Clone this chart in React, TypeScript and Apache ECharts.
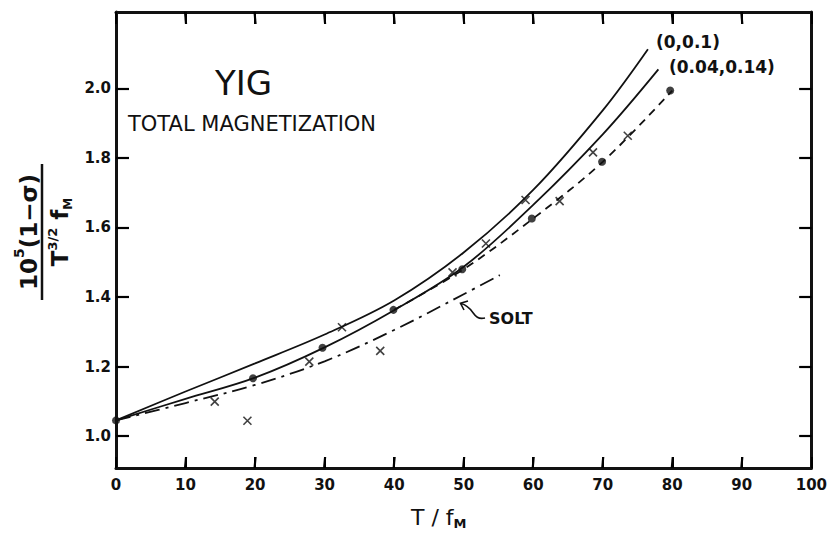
import React, { useEffect, useRef } from "react";
import * as echarts from "echarts";

// ---- data ----
const xTicks = [0, 10, 20, 30, 40, 50, 60, 70, 80, 90, 100];
const yTicks = [1.0, 1.2, 1.4, 1.6, 1.8, 2.0];

// theory curve (0,0.1)
const curveA: [number, number][] = [
  [0, 1.045], [10, 1.128], [20, 1.209], [30, 1.292], [40, 1.39],
  [50, 1.528], [60, 1.708], [70, 1.937], [76.5, 2.113],
];
// theory curve (0.04,0.14)
const curveB: [number, number][] = [
  [0, 1.045], [10, 1.107], [20, 1.168], [30, 1.255], [40, 1.362],
  [50, 1.487], [60, 1.665], [70, 1.868], [78, 2.055],
];
// dashed curve through the dots
const dashedCurve: [number, number][] = [
  [40, 1.363], [50, 1.48], [60, 1.626], [70, 1.789], [80, 1.994],
];
// SOLT (dash-dot)
const soltCurve: [number, number][] = [
  [0, 1.045], [10, 1.095], [20, 1.147], [30, 1.215], [40, 1.305],
  [50, 1.408], [55.2, 1.463],
];
// measured points: filled circles
const dots: [number, number][] = [
  [0, 1.045], [19.7, 1.166], [29.7, 1.254], [39.9, 1.363], [49.8, 1.48],
  [59.8, 1.626], [69.9, 1.789], [79.7, 1.994],
];
// measured points: crosses
const crosses: [number, number][] = [
  [14.2, 1.099], [18.9, 1.044], [27.8, 1.214], [32.5, 1.313], [38, 1.245],
  [48.4, 1.471], [53.2, 1.554], [58.9, 1.679], [63.8, 1.676], [68.6, 1.816],
  [73.6, 1.864],
];

const FONT = "DejaVu Sans";
const INK = "#111";
const TICK_INK = "#000";
const X_MIN = 0;
const X_MAX = 100;
const Y_MIN = 0.908;
const Y_MAX = 2.22;

const mkLine = () => ({ show: true, onZero: false, lineStyle: { color: INK, width: 3 } });
const mkTick = (len: number, custom?: number[]) => {
  const t: any = { show: true, inside: true, length: len, lineStyle: { color: TICK_INK, width: 2 } };
  if (custom) t.customValues = custom;
  return t;
};

export default function App() {
  const ref = useRef<HTMLDivElement>(null);
  useEffect(() => {
    if (!ref.current) return;
    const chart = echarts.init(ref.current, undefined, { renderer: "svg" });
    const lineBase = { type: "line", smooth: 0.35, showSymbol: false, symbol: "none", silent: true, z: 3 };
    const innerX = xTicks.filter((v) => v > X_MIN && v < X_MAX);
    const yPerPx = (Y_MAX - Y_MIN) / 456;
    const xPerPx = (X_MAX - X_MIN) / 697;
    const eps = 0.5 * xPerPx; // tiny horizontal extent so the short vertical marks are painted
    const xTickSeg = (edge: number, dy: number) =>
      innerX.map((v) => ({ coords: [[v - eps, edge], [v + eps, edge + dy]] }));
    const yTickSeg = (edge: number, dx: number) =>
      yTicks.map((v) => ({ coords: [[edge, v], [edge + dx, v]] }));
    chart.setOption({
      animation: false,
      backgroundColor: "#fff",
      grid: { left: 116, right: 17, top: 12, bottom: 68 },
      xAxis: [
        {
          type: "value", position: "bottom", min: X_MIN, max: X_MAX, interval: 10,
          axisLine: mkLine(), splitLine: { show: false }, axisTick: mkTick(11),
          axisLabel: { show: true, color: INK, fontFamily: FONT, fontSize: 15, fontWeight: "bold", margin: 9,
            formatter: (v: number) => (xTicks.includes(v) ? String(v) : "") },
        },
        {
          type: "value", position: "top", min: X_MIN, max: X_MAX, interval: 10,
          axisLine: mkLine(), splitLine: { show: false }, axisLabel: { show: false }, axisTick: mkTick(12),
        },
      ],
      yAxis: [
        {
          type: "value", position: "left", min: Y_MIN, max: Y_MAX,
          axisLine: mkLine(), splitLine: { show: false }, axisTick: mkTick(13, yTicks),
          axisLabel: { show: true, color: INK, fontFamily: FONT, fontSize: 15, fontWeight: "bold", margin: 5,
            customValues: yTicks, formatter: (v: number) => v.toFixed(1) },
        },
        {
          type: "value", position: "right", min: Y_MIN, max: Y_MAX,
          axisLine: mkLine(), splitLine: { show: false }, axisTick: mkTick(12, yTicks),
          axisLabel: { show: false },
        },
      ],
      series: [
        { ...lineBase, name: "(0,0.1)", data: curveA, lineStyle: { color: INK, width: 1.8 } },
        { ...lineBase, name: "(0.04,0.14)", data: curveB, lineStyle: { color: INK, width: 1.8 } },
        { ...lineBase, name: "dashed", data: dashedCurve, lineStyle: { color: INK, width: 1.8, type: [8, 6] } },
        { ...lineBase, name: "SOLT", data: soltCurve, lineStyle: { color: INK, width: 1.8, type: [15, 6, 3, 6] } },
        {
          type: "scatter", name: "dots", data: dots, symbol: "circle", symbolSize: 8, clip: false, z: 5,
          itemStyle: { color: INK },
        },
        {
          type: "scatter", name: "crosses", data: crosses, clip: false, z: 5,
          symbol: "path://M0,0L10,10M10,0L0,10", symbolSize: 8,
          itemStyle: { color: "none", borderColor: INK, borderWidth: 1.6 },
        },
        {
          type: "lines", name: "ticks", coordinateSystem: "cartesian2d", silent: true, z: 6,
          polyline: false, symbol: "none",
          lineStyle: { color: TICK_INK, width: 2.2, opacity: 1 },
          data: [
            ...xTickSeg(Y_MIN, 11 * yPerPx),
            ...xTickSeg(Y_MAX, -12 * yPerPx),
            ...yTickSeg(X_MIN, 13 * xPerPx),
            ...yTickSeg(X_MAX, -12 * xPerPx),
          ],
        },
      ],
      graphic: [
        { type: "text", left: 215, top: 66, style: { text: "YIG", fontFamily: FONT, fontSize: 34, fill: INK } },
        { type: "text", left: 128, top: 113, style: { text: "TOTAL MAGNETIZATION", fontFamily: FONT, fontSize: 21, fill: INK } },
        { type: "text", left: 656, top: 33, style: { text: "(0,0.1)", fontFamily: FONT, fontSize: 17, fontWeight: "bold", fill: INK } },
        { type: "text", left: 669, top: 58, style: { text: "(0.04,0.14)", fontFamily: FONT, fontSize: 17, fontWeight: "bold", fill: INK } },
        { type: "text", left: 489, top: 310, style: { text: "SOLT", fontFamily: FONT, fontSize: 16, fontWeight: "bold", fill: INK } },
        {
          type: "bezierCurve",
          shape: { x1: 485, y1: 318, x2: 461, y2: 303.5, cpx1: 472, cpy1: 321, cpx2: 475, cpy2: 307 },
          style: { stroke: INK, lineWidth: 1.6, fill: "none" },
        },
        {
          type: "polyline",
          shape: { points: [[468, 301], [460.5, 303.3], [464, 310]] },
          style: { stroke: INK, lineWidth: 1.6, fill: "none" },
        },
        {
          type: "group", x: 42, y: 232, rotation: Math.PI / 2,
          children: [
            { type: "line", shape: { x1: -68, y1: 0, x2: 68, y2: 0 }, style: { stroke: INK, lineWidth: 2.5 } },
            {
              type: "text", x: 0, y: -2,
              style: {
                text: "{a|10}{s|5}{a|(1−σ)}", align: "center", verticalAlign: "bottom", fill: INK,
                rich: {
                  a: { fontFamily: FONT, fontSize: 23, fontWeight: "bold", lineHeight: 28, verticalAlign: "bottom", fill: INK },
                  s: { fontFamily: FONT, fontSize: 14, fontWeight: "bold", lineHeight: 14, verticalAlign: "top", fill: INK },
                },
              },
            },
            {
              type: "text", x: 0, y: 4,
              style: {
                text: "{a|T}{s|3/2}{a| f}{m|M}", align: "center", verticalAlign: "top", fill: INK,
                rich: {
                  a: { fontFamily: FONT, fontSize: 23, fontWeight: "bold", lineHeight: 28, verticalAlign: "middle", fill: INK },
                  s: { fontFamily: FONT, fontSize: 13, fontWeight: "bold", lineHeight: 13, verticalAlign: "top", fill: INK },
                  m: { fontFamily: FONT, fontSize: 12, fontWeight: "bold", lineHeight: 12, verticalAlign: "bottom", fill: INK },
                },
              },
            },
          ],
        },
        {
          type: "text", left: 411, top: 506,
          style: {
            text: "{a|T / f}{m|M}", fill: INK,
            rich: {
              a: { fontFamily: FONT, fontSize: 22, lineHeight: 26, verticalAlign: "middle", fill: INK },
              m: { fontFamily: FONT, fontSize: 13, fontWeight: "bold", lineHeight: 13, verticalAlign: "bottom", fill: INK },
            },
          },
        },
      ],
    });
    return () => chart.dispose();
  }, []);
  return (
    <div
      ref={ref}
      style={{ position: "fixed", left: 0, top: 0, width: 830, height: 536, background: "#fff" }}
    />
  );
}
